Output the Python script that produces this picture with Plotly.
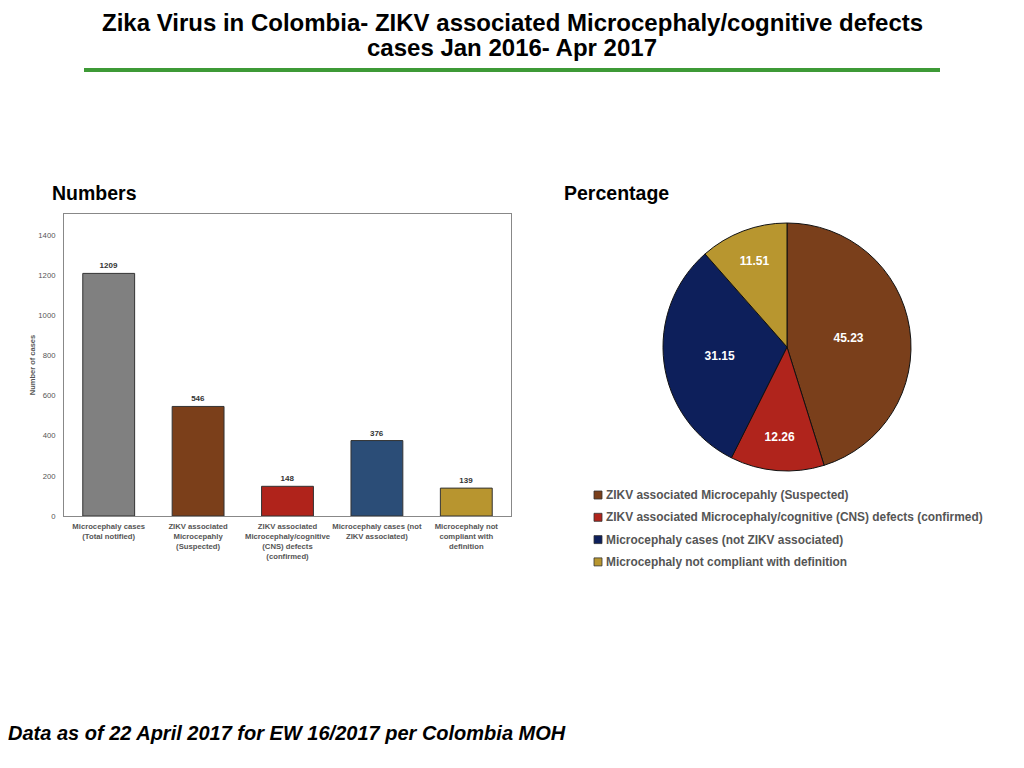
import plotly.graph_objects as go

# bar chart data (Numbers)
bar_labels = [
    "Microcephaly cases<br>(Total notified)",
    "ZIKV associated<br>Microcepahly<br>(Suspected)",
    "ZIKV associated<br>Microcephaly/cognitive<br>(CNS) defects<br>(confirmed)",
    "Microcephaly cases (not<br>ZIKV associated)",
    "Microcephaly not<br>compliant with<br>definition",
]
bar_values = [1209, 546, 148, 376, 139]
bar_colors = ["#808080", "#7B3F1A", "#B0231B", "#2B4D77", "#B8952F"]

# pie chart data (Percentage)
pie_labels = [
    "ZIKV associated Microcepahly (Suspected)",
    "ZIKV associated Microcephaly/cognitive (CNS) defects (confirmed)",
    "Microcephaly cases (not ZIKV associated)",
    "Microcephaly not compliant with definition",
]
pie_values = [45.23, 12.26, 31.15, 11.51]
pie_colors = ["#7A3F1B", "#B0241C", "#0D1F5B", "#B8962F"]

y_ticks = [0, 200, 400, 600, 800, 1000, 1200, 1400]

# the page body adds an 8px margin, so positions below are page pixels minus 8
OFF = 8
W, H = 1024 - OFF, 768 - OFF
def px(x):
    return (x - OFF) / W
def py(y):
    return 1 - (y - OFF) / H

FONT = "Liberation Sans, Arial, sans-serif"

fig = go.Figure()

fig.add_trace(go.Bar(
    x=bar_labels,
    y=bar_values,
    marker=dict(color=bar_colors, line=dict(color="#333333", width=1)),
    text=[str(v) for v in bar_values],
    textposition="outside",
    textfont=dict(size=8, color="#333333", family=FONT, weight="bold"),
    cliponaxis=False,
    showlegend=False,
    xaxis="x", yaxis="y",
))

fig.add_trace(go.Pie(
    labels=pie_labels,
    values=pie_values,
    sort=False,
    direction="clockwise",
    rotation=0,
    marker=dict(colors=pie_colors, line=dict(color="#111111", width=1)),
    texttemplate="%{value:.2f}",
    textposition="inside",
    insidetextorientation="horizontal",
    textfont=dict(size=12, color="white", family=FONT, weight="bold"),
    domain=dict(x=[px(663), px(911)], y=[py(471), py(223)]),
    showlegend=False,
))

fig.update_layout(
    width=W, height=H,
    margin=dict(l=0, r=0, t=0, b=0),
    paper_bgcolor="white",
    plot_bgcolor="white",
    font=dict(family=FONT, color="#555555"),
    bargap=0.42,
    xaxis=dict(
        domain=[px(64), px(511)],
        anchor="y",
        automargin=False,
        showline=True, linecolor="#888888", linewidth=1, mirror=True,
        tickfont=dict(size=7.7, color="#555555", weight="bold"),
        tickangle=0,
        ticks="",
        ticklabelstandoff=3,
        showgrid=False,
    ),
    yaxis=dict(
        domain=[py(516), py(214)],
        anchor="x",
        automargin=False,
        range=[0, 1505],
        tickvals=y_ticks,
        tickfont=dict(size=7.7, color="#555555"),
        showline=True, linecolor="#888888", linewidth=1, mirror=True,
        showgrid=False, zeroline=False,
        ticks="",
        ticklabelstandoff=6,
        title=dict(text="Number of cases", font=dict(size=7.5, color="#555555", weight="bold"), standoff=1),
    ),
)

# hand-drawn legend for the pie: small square right next to bold grey text
for i, (lab, col) in enumerate(zip(pie_labels, pie_colors)):
    yc = 495 + 22.3 * i
    fig.add_shape(
        type="rect", xref="paper", yref="paper",
        x0=px(594), x1=px(602), y0=py(yc + 4), y1=py(yc - 4),
        fillcolor=col, line=dict(color="#333333", width=0.8),
    )
    fig.add_annotation(
        x=px(604), y=py(yc), xref="paper", yref="paper",
        text=lab, showarrow=False, xanchor="left", yanchor="middle",
        font=dict(size=11.9, color="#555555", family=FONT, weight="bold"),
    )

# title: first line hangs from the top edge so its box is not cut off
fig.add_annotation(
    x=px(512), y=1, xref="paper", yref="paper",
    text="Zika Virus in Colombia- ZIKV associated Microcephaly/cognitive defects",
    showarrow=False, xanchor="center", yanchor="top", borderpad=0,
    font=dict(size=24, color="black", family=FONT, weight="bold"),
)
fig.add_annotation(
    x=px(512), y=py(48), xref="paper", yref="paper",
    text="cases Jan 2016- Apr 2017",
    showarrow=False, xanchor="center", yanchor="middle",
    font=dict(size=24, color="black", family=FONT, weight="bold"),
)

fig.add_shape(
    type="line", xref="paper", yref="paper",
    x0=px(84), x1=px(940), y0=py(70), y1=py(70),
    line=dict(color="#3E9A36", width=4),
)

fig.add_annotation(
    x=px(50), y=py(193), xref="paper", yref="paper",
    text="Numbers", showarrow=False, xanchor="left", yanchor="middle",
    font=dict(size=19.5, color="black", family=FONT, weight="bold"),
)
fig.add_annotation(
    x=px(562), y=py(193), xref="paper", yref="paper",
    text="Percentage", showarrow=False, xanchor="left", yanchor="middle",
    font=dict(size=19.5, color="black", family=FONT, weight="bold"),
)

fig.add_annotation(
    x=px(6), y=py(733), xref="paper", yref="paper",
    text="<i>Data as of 22 April 2017 for EW 16/2017 per Colombia MOH</i>",
    showarrow=False, xanchor="left", yanchor="middle",
    font=dict(size=20, color="black", family=FONT, weight="bold"),
)

fig.write_html("out.html")
